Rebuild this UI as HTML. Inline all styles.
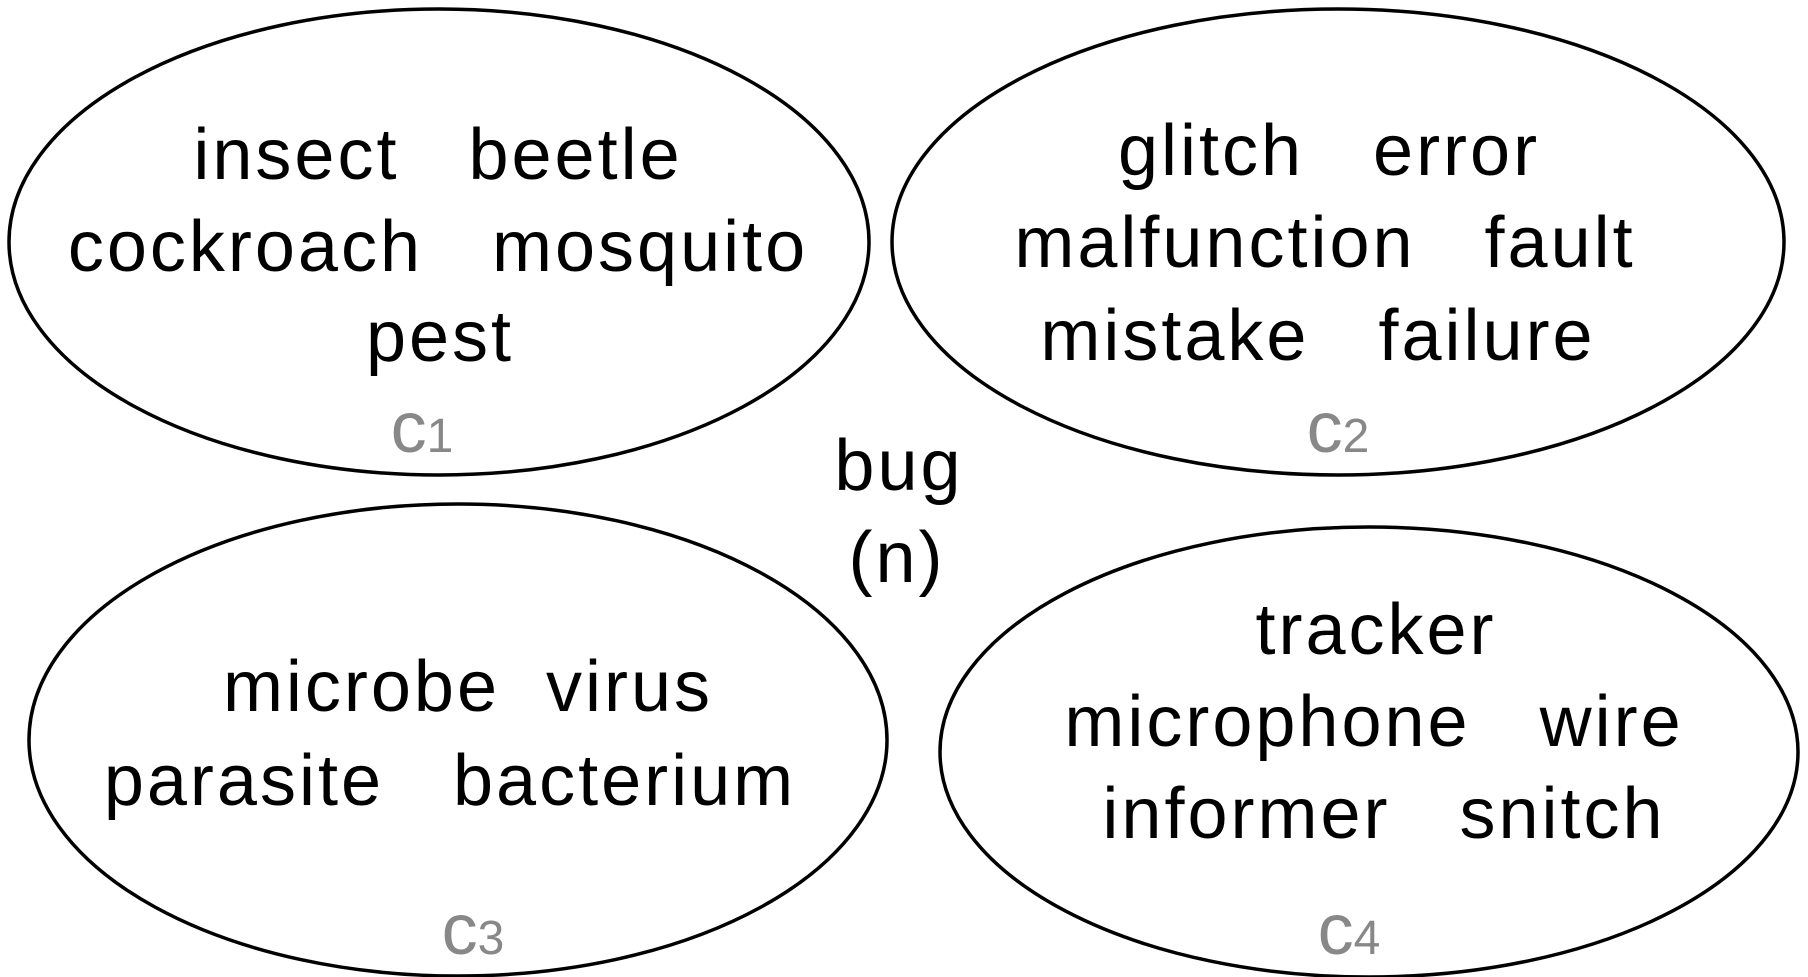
<!DOCTYPE html>
<html><head><meta charset="utf-8"><style>
html,body{margin:0;padding:0;background:#fff;}
svg{display:block;}
text{font-family:"Liberation Sans",sans-serif;white-space:pre;}
.t{font-size:72px;fill:#000;text-anchor:middle;letter-spacing:3px;}
.c{font-size:72px;fill:#888;text-anchor:middle;}
</style></head><body>
<svg width="1808" height="977" viewBox="0 0 1808 977">
<g fill="none" stroke="#000" stroke-width="3.5">
<ellipse cx="439" cy="242" rx="430" ry="233"/>
<ellipse cx="1338" cy="242" rx="446" ry="233"/>
<ellipse cx="458" cy="740" rx="429" ry="236"/>
<ellipse cx="1369" cy="752" rx="429" ry="225"/>
</g>
<text class="t" x="438" y="179">insect   beetle</text>
<text class="t" x="438" y="271">cockroach   mosquito</text>
<text class="t" x="440" y="361">pest</text>
<text class="c" x="422" y="452">c<tspan font-size="48">1</tspan></text>

<text class="t" x="1329" y="175">glitch   error</text>
<text class="t" x="1325" y="267">malfunction   fault</text>
<text class="t" x="1318" y="360">mistake   failure</text>
<text class="c" x="1338" y="452">c<tspan font-size="48">2</tspan></text>

<text class="t" x="899" y="490">bug</text>
<text class="t" x="897" y="582">(n)</text>

<text class="t" x="468" y="711">microbe  virus</text>
<text class="t" x="450" y="805">parasite   bacterium</text>
<text class="c" x="473" y="954">c<tspan font-size="48">3</tspan></text>

<text class="t" x="1376" y="654">tracker</text>
<text class="t" x="1374" y="746">microphone   wire</text>
<text class="t" x="1384" y="838">informer   snitch</text>
<text class="c" x="1349" y="954">c<tspan font-size="48">4</tspan></text>
</svg>
</body></html>
